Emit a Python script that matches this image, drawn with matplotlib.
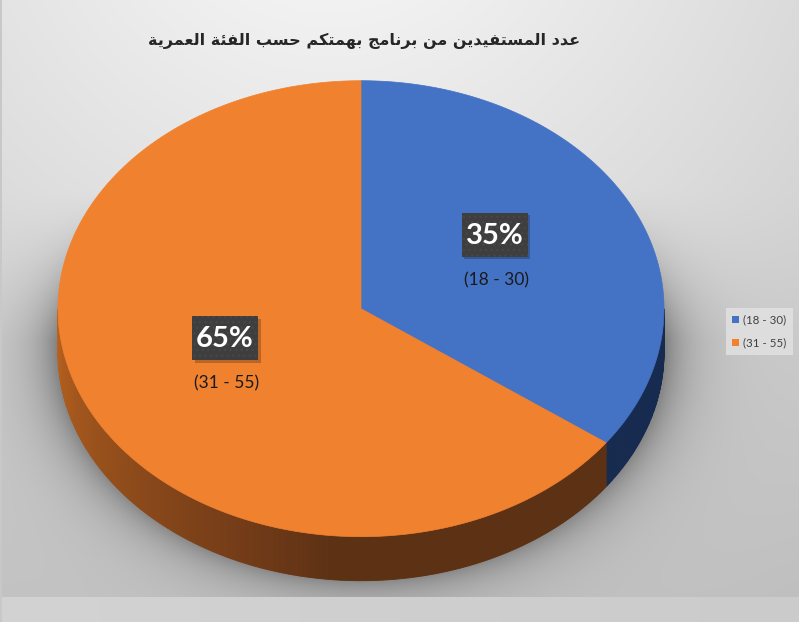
import numpy as np
import matplotlib
matplotlib.use("Agg")
import matplotlib.pyplot as plt
from matplotlib.patches import Polygon, Patch, Rectangle

# chart data
TITLE = "عدد المستفيدين من برنامج بهمتكم حسب الفئة العمرية"
categories = ["(18 - 30)", "(31 - 55)"]
shares = [35, 65]
pct_labels = ["35%", "65%"]
colors = ["#4472C4", "#F0812F"]

# Arabic presentation forms: isolated, final, initial, medial
FORMS = {
    "ا": ("\uFE8D", "\uFE8E", None, None),
    "ب": ("\uFE8F", "\uFE90", "\uFE91", "\uFE92"),
    "ة": ("\uFE93", "\uFE94", None, None),
    "ت": ("\uFE95", "\uFE96", "\uFE97", "\uFE98"),
    "ج": ("\uFE9D", "\uFE9E", "\uFE9F", "\uFEA0"),
    "ح": ("\uFEA1", "\uFEA2", "\uFEA3", "\uFEA4"),
    "د": ("\uFEA9", "\uFEAA", None, None),
    "ر": ("\uFEAD", "\uFEAE", None, None),
    "س": ("\uFEB1", "\uFEB2", "\uFEB3", "\uFEB4"),
    "ع": ("\uFEC9", "\uFECA", "\uFECB", "\uFECC"),
    "ف": ("\uFED1", "\uFED2", "\uFED3", "\uFED4"),
    "ق": ("\uFED5", "\uFED6", "\uFED7", "\uFED8"),
    "ك": ("\uFED9", "\uFEDA", "\uFEDB", "\uFEDC"),
    "ل": ("\uFEDD", "\uFEDE", "\uFEDF", "\uFEE0"),
    "م": ("\uFEE1", "\uFEE2", "\uFEE3", "\uFEE4"),
    "ن": ("\uFEE5", "\uFEE6", "\uFEE7", "\uFEE8"),
    "ه": ("\uFEE9", "\uFEEA", "\uFEEB", "\uFEEC"),
    "ي": ("\uFEF1", "\uFEF2", "\uFEF3", "\uFEF4"),
    "ئ": ("\uFE89", "\uFE8A", "\uFE8B", "\uFE8C"),
}


def shape_arabic(text):
    out = []
    for i, ch in enumerate(text):
        if ch not in FORMS:
            out.append(ch)
            continue
        prev = text[i - 1] if i > 0 else ""
        nxt = text[i + 1] if i + 1 < len(text) else ""
        dual = FORMS[ch][2] is not None
        jp = prev in FORMS and FORMS[prev][2] is not None
        jn = dual and nxt in FORMS
        if jp and jn:
            out.append(FORMS[ch][3])
        elif jp:
            out.append(FORMS[ch][1])
        elif jn:
            out.append(FORMS[ch][2])
        else:
            out.append(FORMS[ch][0])
    return "".join(reversed(out))


W, H = 799, 622
CX, CY, A, B = 361, 308.7, 303, 228
DEPTH = 44

fig = plt.figure(figsize=(W / 100, H / 100), dpi=100)
ax = fig.add_axes([0, 0, 1, 1])
ax.set_xlim(0, W)
ax.set_ylim(H, 0)
ax.axis("off")

# background gradient + soft shadow under the pie
X, Y = np.meshgrid(np.arange(W) + 0.5, np.arange(H) + 0.5)
d = np.hypot(X - 330, Y + 150)
bg = 252 - 54 * (d / 800)
r = np.hypot((X - CX) / (A + 2), (Y - CY - 34) / (B + 6))
out = np.clip(r - 1, 0, None)
w = np.clip((Y - 190) / 150, 0, 1)
sh = 62 * np.exp(-out / 0.08) * w + 18 * np.exp(-out / 0.3) * w
band = Y >= 597
bg = bg - sh
bg[band] = 211 - 8 * (X[band] / W)
bg[:, :2] = 200
img = np.dstack([bg, bg, bg]) / 255.0
ax.imshow(np.clip(img, 0, 1), extent=(0, W, H, 0), zorder=0, aspect="auto")


def ell(theta_deg, dy=0.0, rr=1.0):
    t = np.radians(theta_deg)
    return CX + rr * A * np.sin(t), CY - rr * B * np.cos(t) + dy


def mix(c1, c2, f):
    c1 = np.array(matplotlib.colors.to_rgb(c1))
    c2 = np.array(matplotlib.colors.to_rgb(c2))
    return tuple(c1 + (c2 - c1) * f)


bounds = np.concatenate([[0], np.cumsum(shares)]) * 360 / sum(shares)

# side walls (front half, 90..270 deg clockwise from top)
for i in range(len(shares)):
    lo, hi = max(bounds[i], 90), min(bounds[i + 1], 270)
    if hi <= lo:
        continue
    steps = np.linspace(lo, hi, int((hi - lo) * 2) + 2)
    for t0, t1 in zip(steps[:-1], steps[1:]):
        tm = (t0 + t1) / 2
        if i == 0:
            col = "#172B50"
        else:
            if tm > 200:
                col = mix("#703A17", "#B8621F", (tm - 200) / 70)
            else:
                col = mix("#5C3114", "#703A17", max(tm - 185, 0) / 15)
        x0, y0 = ell(t0)
        x1, y1 = ell(t1)
        poly = [(x0, y0), (x1, y1), (x1, y1 + DEPTH), (x0, y0 + DEPTH)]
        ax.add_patch(Polygon(poly, closed=True, fc=col, ec=col, lw=0.6, zorder=2))

# top faces
for i in range(len(shares)):
    tt = np.linspace(bounds[i], bounds[i + 1], 300)
    xs, ys = ell(tt)
    pts = [(CX, CY)] + list(zip(xs, ys))
    ax.add_patch(Polygon(pts, closed=True, fc=colors[i], ec=colors[i], lw=0.5, zorder=3))

# data labels
BW, BH = 66, 44
for i in range(len(shares)):
    mid = (bounds[i] + bounds[i + 1]) / 2
    lx, ly = ell(mid, rr=0.5)
    bx, by = lx - 1, ly - 22
    ax.add_patch(Rectangle((bx - BW / 2 + 2.5, by - BH / 2 + 2.5), BW, BH,
                           fc="black", ec="none", alpha=0.22, zorder=4))
    ax.add_patch(Rectangle((bx - BW / 2, by - BH / 2), BW, BH,
                           fc="#3E3E3E", ec="#474747", lw=0, hatch="...", zorder=4.5))
    ax.text(bx, by + 1, pct_labels[i], ha="center", va="center",
            fontsize=21, fontweight="bold", family="Lato", color="white", zorder=5)
    ax.text(lx + 1, ly + 23, categories[i], ha="center", va="center",
            fontsize=12.5, family="Lato", color="#1a1a1a", zorder=5)

ax.text(364, 41, shape_arabic(TITLE), ha="center", va="center",
        fontsize=11.5, fontweight="bold", family="DejaVu Sans", color="#262626")

handles = [Patch(fc=c, ec="none") for c in colors]
leg = ax.legend(handles, categories, loc="center", bbox_to_anchor=(759.5 / W, 1 - 331.5 / H),
                bbox_transform=fig.transFigure, frameon=True,
                prop={"family": "Lato", "size": 8.3},
                handlelength=0.6, handleheight=0.6, handletextpad=0.35,
                labelspacing=1.0, borderpad=0.55, borderaxespad=0, fancybox=False)
leg.get_frame().set_facecolor("#E3E3E3")
leg.get_frame().set_edgecolor("none")
for t in leg.get_texts():
    t.set_color("#404040")

fig.savefig("out.png", dpi=100)
